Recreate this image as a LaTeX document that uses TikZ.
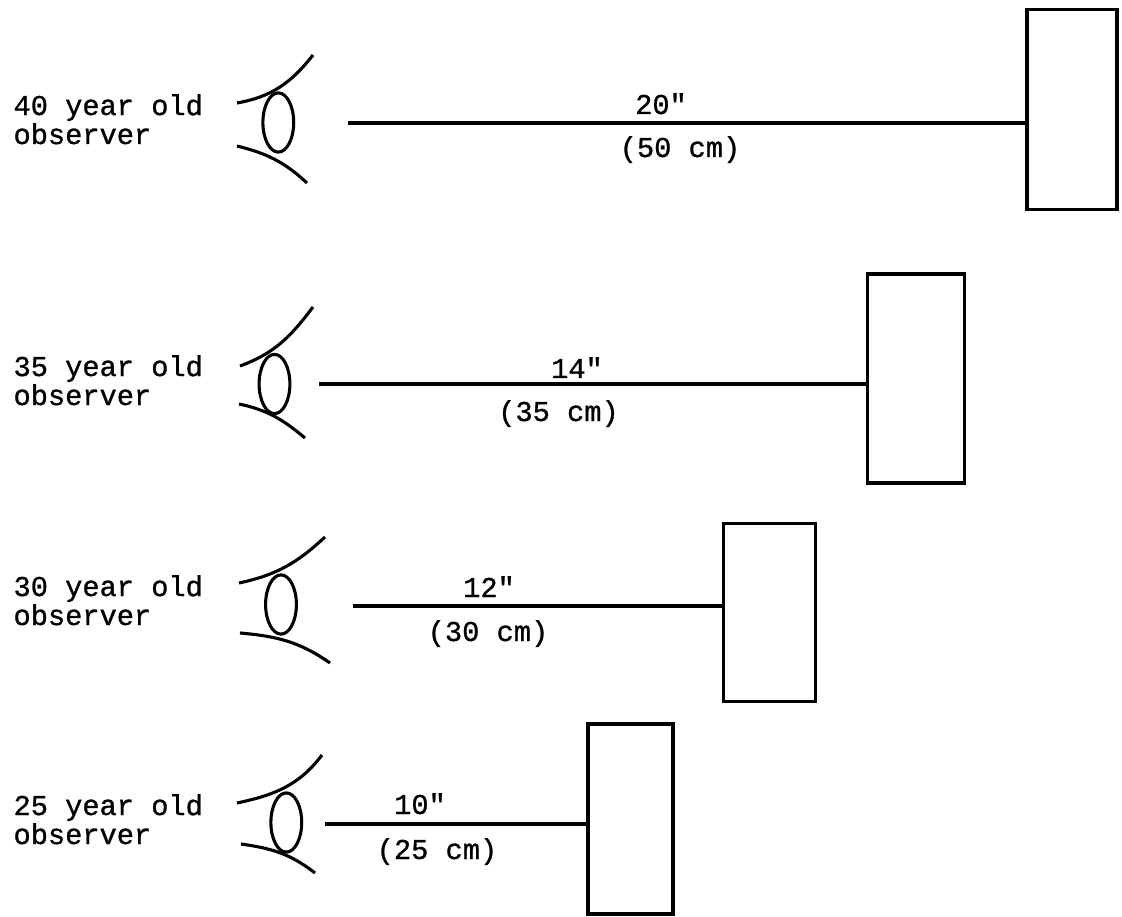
\documentclass[tikz,border=0pt]{standalone}
\usepackage{fontspec}
\setmonofont{Liberation Mono}[RawFeature={embolden=1.0}]
\usepackage{tikz}
\usetikzlibrary{positioning,shapes}

\begin{document}
\begin{tikzpicture}[x=0.0125cm, y=-0.0125cm, line width=1.1pt,
    every node/.style={font=\ttfamily\fontsize{10.2}{10.3}\selectfont, inner sep=0pt},
    age/.style={anchor=base west, align=left},
    pupil/.style={draw, ellipse, minimum width=0.385cm, minimum height=0.74cm},
    screen/.style={draw, rectangle}]
  \useasboundingbox (0,0) rectangle (1122,917);

  % 40 year old
  \node[age] (age40) at (12,144) {40 year old\\observer};
  \node[pupil] (eye40) at (278.3,122.5) {};
  \draw (237,103) to[out=10,in=232] (313,55);
  \draw (237,146) to[out=-14,in=137] (307,183);
  \node[screen, minimum width=1.125cm, minimum height=2.5cm] (scr40) at (1072,109.5) {};
  \coordinate (s40) at (348,123);
  \draw (s40) -- (s40 -| scr40.west);
  \node[anchor=base] (in40) at (661,114) {20"};
  \node[anchor=base] (cm40) at (680,157) {(50 cm)};

  % 35 year old
  \node[age] (age35) at (12,405) {35 year old\\observer};
  \node[pupil] (eye35) at (274.5,384) {};
  \draw (240,366) to[out=20,in=233] (313,307);
  \draw (239,404) to[out=-12,in=140] (305,438);
  \node[screen, minimum width=1.2125cm, minimum height=2.6125cm] (scr35) at (916,378.5) {};
  \coordinate (s35) at (319,384);
  \draw (s35) -- (s35 -| scr35.west);
  \node[anchor=base] (in35) at (577,378) {14"};
  \node[anchor=base] (cm35) at (558.5,421) {(35 cm)};

  % 30 year old
  \node[age] (age30) at (12,625) {30 year old\\observer};
  \node[pupil] (eye30) at (281,604.5) {};
  \draw (239,583) to[out=12,in=223] (325,537);
  \draw (240,633) to[out=-5,in=145] (330,663);
  \node[screen, minimum width=1.144cm, minimum height=2.219cm] (scr30) at (769.3,612.3) {};
  \coordinate (s30) at (352.5,606);
  \draw (s30) -- (s30 -| scr30.west);
  \node[anchor=base] (in30) at (489,597) {12"};
  \node[anchor=base] (cm30) at (488,641) {(30 cm)};

  % 25 year old
  \node[age] (age25) at (12,844) {25 year old\\observer};
  \node[pupil] (eye25) at (286.3,822.5) {};
  \draw (237,803) to[out=12,in=233] (322,755);
  \draw (241,844) to[out=-8,in=142] (315,873);
  \node[screen, minimum width=1.0625cm, minimum height=2.375cm] (scr25) at (630.5,819) {};
  \coordinate (s25) at (325,824);
  \draw (s25) -- (s25 -| scr25.west);
  \node[anchor=base] (in25) at (420,814) {10"};
  \node[anchor=base] (cm25) at (437,859) {(25 cm)};
\end{tikzpicture}
\end{document}
